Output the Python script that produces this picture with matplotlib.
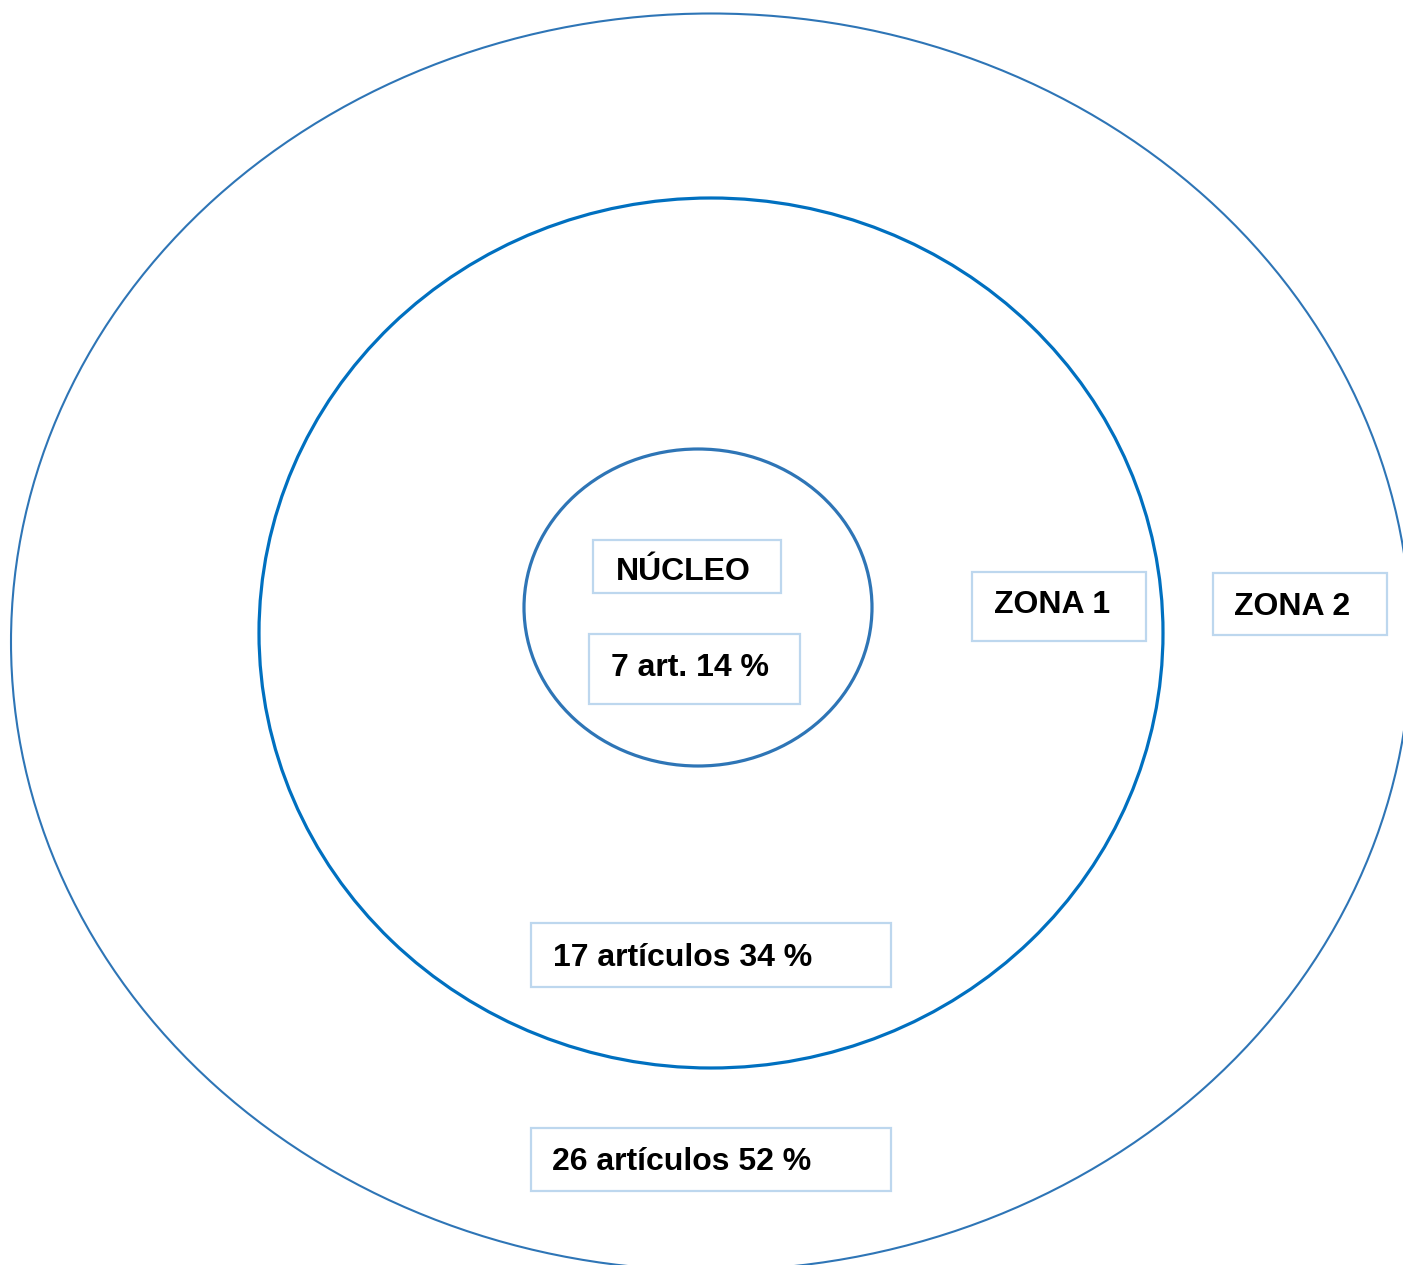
import matplotlib
matplotlib.use('Agg')
import matplotlib.pyplot as plt
from matplotlib.patches import Ellipse, Rectangle

# Elipses: centro x, centro y, ancho, alto (en pixeles de la imagen)
nombres_elipse = ['ZONA 2', 'ZONA 1', 'NÚCLEO']
centros_elipse = [(711, 642), (711, 633), (698, 607.5)]
tamanos_elipse = [(1400, 1257), (904, 870), (348, 317)]
colores_elipse = ['#2E75B6', '#0070C0', '#2E75B6']
grosores_elipse = [1.5, 2.3, 2.3]

# Etiquetas y sus cajas
textos = ['NÚCLEO', '7 art. 14 %', 'ZONA 1', 'ZONA 2',
          '17 artículos 34 %', '26 artículos 52 %']
cajas = [(593, 540, 188, 53), (589, 634, 211, 70), (972, 572, 174, 69),
         (1213, 573, 174, 62), (531, 923, 360, 64), (531, 1128, 360, 63)]
inicio_texto = [(616, 572), (611, 668), (994, 605), (1234, 607),
                (553, 958), (552, 1162)]

fig = plt.figure(figsize=(14.03, 12.65), dpi=100)
ax = fig.add_axes([0, 0, 1, 1])
ax.set_xlim(0, 1403)
ax.set_ylim(1265, 0)
ax.axis('off')

for c, t, col, lw in zip(centros_elipse, tamanos_elipse, colores_elipse, grosores_elipse):
    ax.add_patch(Ellipse(c, t[0], t[1], fill=False, edgecolor=col, linewidth=lw))

for caja, txt, pos in zip(cajas, textos, inicio_texto):
    x, y, w, h = caja
    ax.add_patch(Rectangle((x, y), w, h, facecolor='white', edgecolor='#BDD7EE', linewidth=1.6))
    ax.text(pos[0], pos[1], txt, ha='left', va='center', fontsize=23,
            fontweight='bold', family=['Liberation Sans', 'DejaVu Sans'], color='black')

fig.savefig('out.png', dpi=100)
